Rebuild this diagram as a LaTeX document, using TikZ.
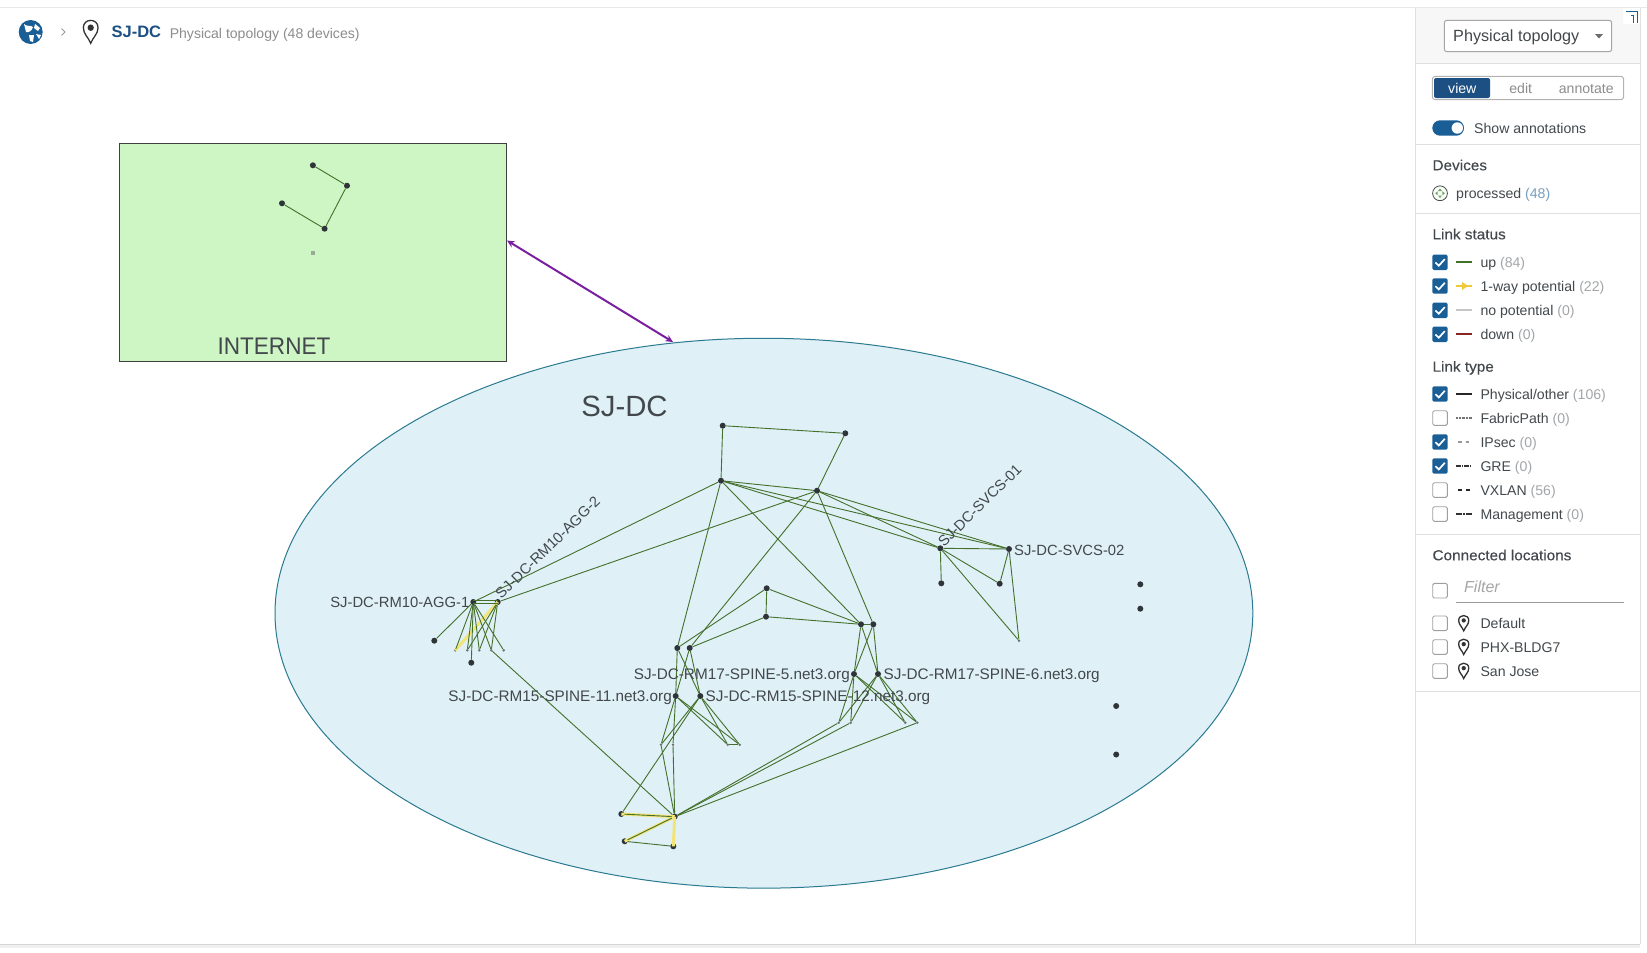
\documentclass[tikz,border=0pt]{standalone}
\usepackage{fontspec}
\setmainfont{Liberation Sans}
\newfontfamily\headfont[FakeStretch=1.05,FakeBold=0.25]{Liberation Sans}
\usetikzlibrary{shapes.geometric,arrows.meta}
\definecolor{lnk}{HTML}{43702A}
\definecolor{yel}{HTML}{F3E478}
\definecolor{yelleg}{HTML}{EFC93A}
\definecolor{devc}{HTML}{2F3438}
\definecolor{txt}{HTML}{42484C}
\definecolor{cnt}{HTML}{A3A6A8}
\definecolor{sep}{HTML}{DEDFE0}
\definecolor{navy}{HTML}{1C4F82}
\definecolor{chk}{HTML}{1A5E96}
\definecolor{inetfill}{HTML}{CEF5C4}
\definecolor{dcfill}{HTML}{DFF0F7}
\definecolor{dcline}{HTML}{2A7A90}
\definecolor{purp}{HTML}{7A1FA0}
\tikzset{
  dev/.style={circle,fill=devc,draw=none,inner sep=0pt,minimum size=6pt},
  sdev/.style={circle,fill=devc!70,draw=none,inner sep=0pt,minimum size=2.8pt},
  link/.style={draw=lnk,line width=0.9pt},
  hot/.style={draw=yel,line width=3pt},
  dlabel/.style={font=\fontsize{15.3}{18}\selectfont,text=txt,inner sep=0pt,text height=11pt,text depth=0pt},
  dlabelb/.style={dlabel,font=\fontsize{14.8}{18}\selectfont},
  ui/.style={font=\fontsize{14.1}{16}\selectfont,text=txt,inner sep=0pt,anchor=west,text height=10pt,text depth=0pt},
  head/.style={font=\headfont\fontsize{14.6}{16}\selectfont,text=txt,inner sep=0pt,anchor=west,text height=10pt,text depth=0pt},
  seprule/.style={draw=sep,line width=1pt},
  lg/.style={line width=1.7pt},
  boxchecked/.pic={
    \fill[chk,rounded corners=1.5pt] (-7.7,-7.7) rectangle (7.7,7.7);
    \draw[white,line width=1.7pt] (-4.6,0.2) -- (-1.2,3.4) -- (4.8,-3.2);
  },
  boxempty/.pic={
    \draw[draw=gray!75,fill=white,line width=0.9pt,rounded corners=1.5pt] (-7.3,-7.3) rectangle (7.3,7.3);
  },
  pinmark/.pic={
    \draw[line width=1.3pt,draw=black!80,fill=white] (0,10.5) .. controls (-2,5) and (-7,2) .. (-7,-4) .. controls (-7,-13) and (7,-13) .. (7,-4) .. controls (7,2) and (2,5) .. (0,10.5) -- cycle;
    \fill[black!80] (0,-4) circle (3);
  },
}
\begin{document}
\begin{tikzpicture}[x=1pt,y=-1pt]
\useasboundingbox (0,0) rectangle (1647,953);
\fill[white] (0,0) rectangle (1647,953);
% page frame
\draw[draw=black!9,line width=1.2pt] (0,7.3) -- (1647,7.3);
\fill[black!6] (0,944) rectangle (1640,948);
\fill[black!16] (0,943.6) rectangle (1640,945.4);

% header
\fill[chk] (30.7,32) circle (12);
\fill[white] (24,24) .. controls (27,27) and (31,25) .. (33,27) .. controls (32,31) and (28,33) .. (26,32) -- cycle;
\fill[white] (35,24) -- (40,28) -- (38,31) -- (34,28) -- cycle;
\fill[white] (29,35) -- (34,35) -- (33,42) -- (30,41) -- cycle;
\fill[white] (36,34) -- (41,35) -- (39,39) -- cycle;
\draw[draw=gray!80,line width=0.9pt] (61.5,28.5) -- (65,32) -- (61.5,35.5);
\pic[xscale=1.05,yscale=1.08] at (90.7,32) {pinmark};
\node[inner sep=0pt,anchor=west,text=navy,font=\fontsize{16.5}{20}\bfseries\selectfont,text height=11.5pt,text depth=0pt] (hdrname) at (111.4,32) {SJ-DC};
\node[inner sep=0pt,anchor=west,text=gray!90,font=\fontsize{14.05}{16}\selectfont,text height=10pt,text depth=0pt] (hdrinfo) at (169.6,33) {Physical topology (48 devices)};

% Internet
\node[draw=black!75,line width=1pt,fill=inetfill,minimum width=387pt,minimum height=218pt,inner sep=0pt] (internet) at (313.2,252.5) {};
\node[inner sep=0pt,text=txt,font=\fontsize{24}{28}\selectfont,text height=17.5pt,text depth=0pt] (internettitle) at (274,345.5) {\addfontfeature{FakeStretch=0.94}INTERNET};
\node[dev] (ia) at (312.9,165.3) {};
\node[dev] (ib) at (347,185.7) {};
\node[dev] (ic) at (282,203.3) {};
\node[dev] (id) at (324.6,228.7) {};
\node[fill=gray!65!inetfill,inner sep=0pt,minimum width=4pt,minimum height=3.4pt] (ie) at (313,253) {};
\path[link] (ia) -- (ib) (ib) -- (id) (id) -- (ic);

% SJ-DC ellipse
\node[ellipse,draw=dcline,line width=1pt,fill=dcfill,inner sep=0pt,minimum width=977.8pt,minimum height=549.9pt] (dc) at (763.9,613.2) {};
\node[inner sep=0pt,text=txt,font=\fontsize{29.3}{34}\selectfont,text height=21pt,text depth=0pt] (dctitle) at (624.5,405.5) {SJ-DC};

% purple link
\coordinate (pa) at (507,240.5);
\coordinate (pb) at (673,342);
\draw[draw=purp,line width=2pt,{Stealth[length=7.5pt,width=7pt]}-{Stealth[length=7.5pt,width=7pt]}] (pa) -- (pb);

% devices
\foreach \n/\x/\y in {a/722.7/425.7,b/845.3/433.3,c/721/480.7,d/817/490.7,e/766.7/588.3,f/766/616.7,g/861/624.3,h/873.3/624.3,i/677.3/648,j/689.7/648,agga/473.3/602,aggb/497.7/602,k/434.3/640.7,l/471.3/662.7,sa/940.3/548.3,sb/1009/549,n/941.3/583.3,o/999.7/583.7,q/1140.3/584.3,r/1140.3/608.7,ss/1116.2/706,st/1116.2/754.5,spa/854/674,spb/878/674,spc/675.7/696,spd/700.3/696,v/674.7/816.7,w/621.3/814,x/624.7/841.3,y/673.3/846.3}
  \node[dev] (\n) at (\x,\y) {};
\foreach \n/\x/\y in {ma/455.3/650.3,mb/467.3/650.3,mc/479.3/650.3,md/491.3/650.3,me/503.7/650.3,p/1019/640.7,ta/838.7/722.7,tb/850.7/722.7,tc/905.3/722.7,td/917.3/722.7,ua/661/744.7,ub/673/744.7,uc/727.7/744.7,ud/739.7/744.7}
  \node[sdev] (\n) at (\x,\y) {};

% 1-way potential highlights
\path[hot] (aggb.center) -- (ma.center) (v.center) -- (w.center) (v.center) -- (x.center) (v.center) -- (y.center);

% links
\foreach \s/\t in {a/b,a/c,b/d,c/d,c/agga,d/aggb,c/i,c/g,d/h,c/sa,c/sb,d/sa,d/sb,d/j,e/f,e/i,e/g,f/j,f/g,g/h,
  i/spc,i/spd,j/spc,j/spd,g/spa,g/spb,h/spa,h/spb,
  spc/ua,spc/ub,spc/uc,spc/ud,spd/ua,spd/uc,spd/ud,spd/w,uc/ud,ua/v,ub/v,
  spa/ta,spa/tb,spb/ta,spb/tb,spa/tc,spa/td,spb/tc,spb/td,ta/v,tb/v,td/v,
  agga/k,agga/l,agga/ma,agga/mb,agga/mc,agga/md,agga/me,aggb/mb,aggb/mc,aggb/md,md/v,
  sa/sb,sa/n,sa/o,sa/p,sb/o,sb/p,v/w,v/x,x/y}
  \path[link] (\s) -- (\t);
\path[link] ([yshift=-1.4pt]agga.center) -- ([yshift=-1.4pt]aggb.center) ([yshift=1.4pt]agga.center) -- ([yshift=1.4pt]aggb.center);

% device labels
\node[dlabelb,anchor=east] (lagga) at (469.5,602) {SJ-DC-RM10-AGG-1};
\node[dlabelb,anchor=west,rotate=44.3] (laggb) at (497.5,596) {SJ-DC-RM10-AGG-2};
\node[dlabelb,anchor=west,rotate=44.5] (lsa) at (940,544) {SJ-DC-SVCS-01};
\node[dlabelb,anchor=west] (lsb) at (1014,549.5) {SJ-DC-SVCS-02};
\node[dlabel,anchor=east] (lspa) at (850,674) {SJ-DC-RM17-SPINE-5.net3.org};
\node[dlabel,anchor=west] (lspb) at (883.5,674) {SJ-DC-RM17-SPINE-6.net3.org};
\node[dlabel,anchor=east] (lspc) at (672,696) {SJ-DC-RM15-SPINE-11.net3.org};
\node[dlabel,anchor=west] (lspd) at (705.5,696) {SJ-DC-RM15-SPINE-12.net3.org};

% side panel
\fill[white] (1416,8) rectangle (1640,944);
\fill[black!3] (1416,8) rectangle (1640,63.3);
\draw[draw=sep,line width=1pt] (1415.7,8) -- (1415.7,944) (1640,8) -- (1640,944);
\foreach \yy in {63.3,144.3,213.3,534.3,691.7} \draw[seprule] (1416,\yy) -- (1640,\yy);
% expand button
\fill[white,rounded corners=2pt] (1623,8) rectangle (1640,24);
\draw[draw=chk,line width=0.9pt] (1626,11.5) -- (1637,11.5) -- (1637,22.5) (1631,15) -- (1633.5,15) -- (1633.5,22.5);
% dropdown
\node[draw=gray!70,fill=white,rounded corners=2.5pt,line width=1pt,minimum width=167.4pt,minimum height=31.4pt,inner sep=0pt] (drop) at (1528,36) {};
\node[ui,font=\fontsize{16.2}{18}\selectfont,text height=11.5pt] (droptext) at (1453,36) {Physical topology};
\fill[gray!85!black] (1595,34) -- (1603,34) -- (1599,38.5) -- cycle;
% button group
\node[draw=gray!60,rounded corners=3pt,line width=1pt,minimum width=191.4pt,minimum height=23.4pt,inner sep=0pt] (grp) at (1528,88) {};
\node[fill=navy,rounded corners=2pt,minimum width=56pt,minimum height=20pt,inner sep=0pt] (viewbtn) at (1462,88) {};
\node[ui,anchor=center,text=white] (tview) at (1462.3,88.3) {view};
\node[ui,anchor=center,text=gray!90] (tedit) at (1520.7,88.3) {edit};
\node[ui,anchor=center,text=gray!90] (tann) at (1586.3,88.3) {annotate};
% toggle
\fill[chk,rounded corners=7.7pt] (1432.3,120.3) rectangle (1464,135.7);
\fill[white] (1457.3,128) circle (5.7);
\node[ui] (tshow) at (1474,128.3) {Show annotations};
% devices
\node[head] (hdev) at (1432.3,165.3) {Devices};
\draw[draw=black!70,fill=green!4!white,line width=0.8pt] (1440,193.3) circle (7.4);
\fill[lnk!70] (1440,188.5) -- (1442,191) -- (1438,191) -- cycle (1440,198) -- (1442,195.5) -- (1438,195.5) -- cycle (1435.2,193.3) -- (1437.7,191.3) -- (1437.7,195.3) -- cycle (1444.8,193.3) -- (1442.3,191.3) -- (1442.3,195.3) -- cycle;
\node[ui] (tproc) at (1456,193.3) {processed \textcolor{chk!60}{(48)}};
% link status
\node[head] (hstat) at (1432.3,234.3) {Link status};
\foreach \yy/\t/\lbl/\cc in {262.3/up/up/84,286/way/1-way potential/22,310.3/nop/no potential/0,334.3/down/down/0}{
  \pic at (1440,\yy) {boxchecked};
  \node[ui] (s\t) at (1480.3,\yy) {\lbl{} \textcolor{cnt}{(\cc)}};
}
\draw[lg,draw=lnk] (1456,262.3) -- (1472,262.3);
\draw[lg,draw=yelleg] (1456,286) -- (1472,286);
\fill[yelleg] (1462,282) -- (1468,286) -- (1462,290) -- cycle;
\draw[lg,draw=gray!45] (1456,310.3) -- (1472,310.3);
\draw[lg,draw=red!45!black!85] (1456,334.3) -- (1472,334.3);
% link type
\node[head] (htype) at (1432.3,366.7) {Link type};
\foreach \yy/\t/\lbl/\cc/\bx in {394/ph/{Physical/other}/106/boxchecked,418/fp/FabricPath/0/boxempty,442/ip/IPsec/0/boxchecked,466/gre/GRE/0/boxchecked,490/vx/VXLAN/56/boxempty,514/mg/Management/0/boxempty}{
  \pic at (1440,\yy) {\bx};
  \node[ui] (t\t) at (1480.3,\yy) {\lbl{} \textcolor{cnt}{(\cc)}};
}
\draw[lg,draw=black!85] (1456,394) -- (1472,394);
\draw[line width=1.4pt,draw=black!55,dash pattern=on 0.7pt off 0.7pt] (1456,418) -- (1472,418);
\draw[lg,draw=gray!80,dash pattern=on 3.5pt off 4pt] (1458,442) -- (1472,442);
\draw[lg,draw=black!80,dash pattern=on 5pt off 1pt on 1pt off 1pt] (1456,466) -- (1472,466);
\draw[lg,draw=black!85,dash pattern=on 4pt off 4pt] (1458,490) -- (1472,490);
\draw[lg,draw=black!80,dash pattern=on 6pt off 1pt on 2pt off 1pt] (1456,514) -- (1472,514);
% connected locations
\node[head] (hconn) at (1432.3,555.3) {Connected locations};
\pic at (1440,590.7) {boxempty};
\node[ui,text=gray!70,font=\fontsize{16}{18}\itshape\selectfont,text height=11.5pt] (tfilter) at (1464,586.7) {Filter};
\draw[draw=gray!80,line width=0.9pt] (1456,602.3) -- (1624,602.3);
\foreach \yy/\t/\lbl in {623.3/la/Default,647/lb/PHX-BLDG7,671/lc/San Jose}{
  \pic at (1440,\yy) {boxempty};
  \pic[scale=0.72] at (1463.7,\yy) {pinmark};
  \node[ui] (\t) at (1480.3,\yy) {\lbl};
}
\end{tikzpicture}
\end{document}
